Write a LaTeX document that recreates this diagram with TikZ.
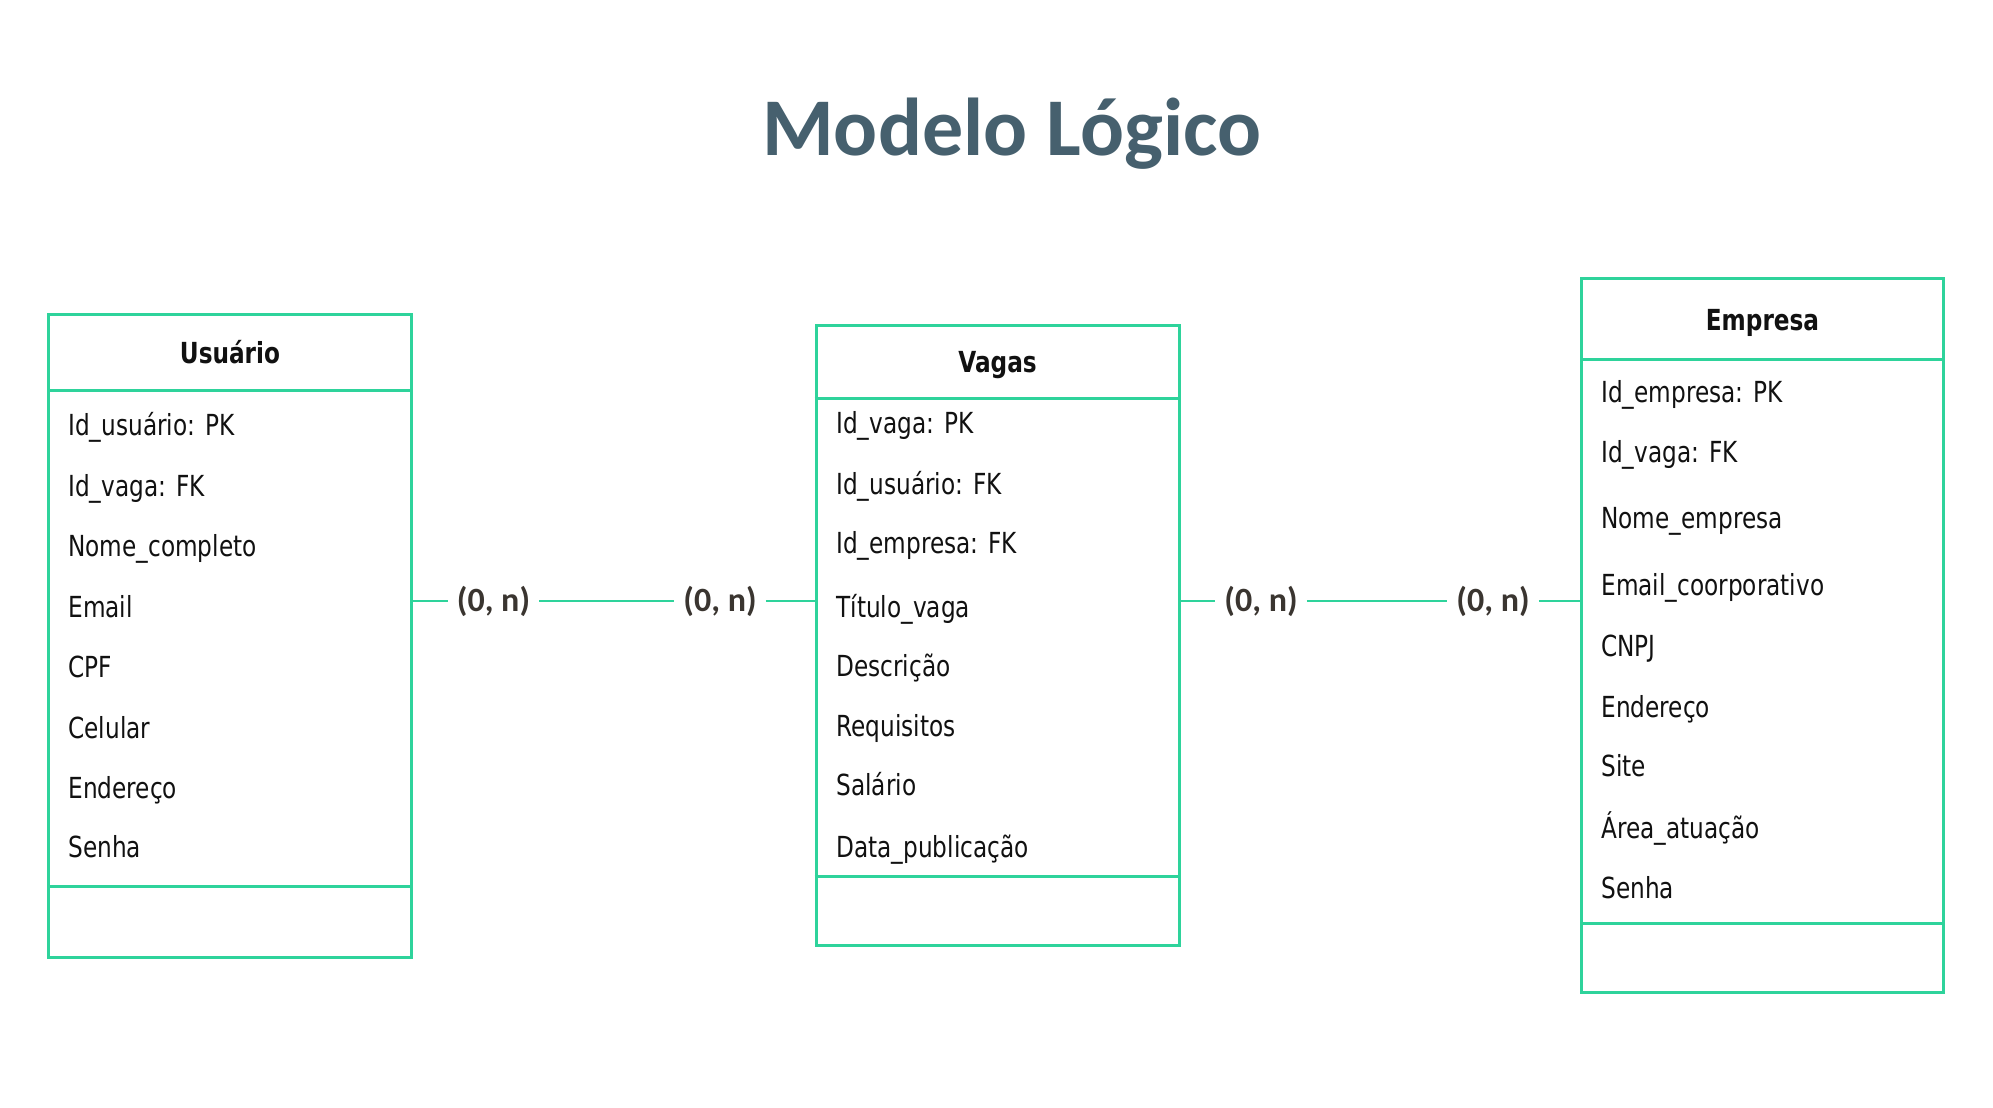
\documentclass[tikz,border=0pt]{standalone}
\usepackage{fontspec}
\newfontfamily\bodyfont[FakeStretch=0.80]{DejaVu Sans}
\newfontfamily\titlefont{Carlito}
\newfontfamily\labelfont{Carlito}
\definecolor{tealline}{HTML}{2ED39B}
\definecolor{titlecol}{HTML}{46606E}
\definecolor{labelcol}{HTML}{3A3530}
\definecolor{textcol}{HTML}{111111}
\begin{document}
\begin{tikzpicture}[x=0.5pt,y=-0.5pt,
  tbl/.style={draw=tealline, line width=1.5pt, rectangle, inner sep=0pt, minimum width=181.5pt},
  divider/.style={draw=tealline, line width=1.5pt},
  conn/.style={draw=tealline, line width=1.4pt},
  attr/.style={anchor=base west, inner sep=0pt, text=textcol, font=\bodyfont\fontsize{14.5}{17}\selectfont},
  hdr/.style={anchor=base, inner sep=0pt, text=textcol, font=\bodyfont\bfseries\fontsize{14.5}{17}\selectfont},
  card/.style={fill=white, inner xsep=4.5pt, inner ysep=1pt, text=labelcol, font=\labelfont\bfseries\fontsize{17}{17}\selectfont},
  ttl/.style={anchor=base, inner sep=0pt, text=titlecol, font=\titlefont\bfseries\fontsize{41}{41}\selectfont}]
\path[fill=white, use as bounding box] (0,0) rectangle (1993,1108);

\node[ttl] (title) at (1012,155) {Modelo Lógico};

% Usuário
\node[tbl, minimum height=321.85pt] (usu) at (230,635.85) {};
\draw[divider] (usu.west |- 0,390) -- (usu.east |- 0,390);
\draw[divider] (usu.west |- 0,886.7) -- (usu.east |- 0,886.7);
\node[hdr] (usuh) at (230,363) {Usuário};
\node[attr] (u1) at (68,435) {Id\_usuário: PK};
\node[attr] (u2) at (68,496) {Id\_vaga: FK};
\node[attr] (u3) at (68,556) {Nome\_completo};
\node[attr] (u4) at (68,617) {Email};
\node[attr] (u5) at (68,677) {CPF};
\node[attr] (u6) at (68,738) {Celular};
\node[attr] (u7) at (68,798) {Endereço};
\node[attr] (u8) at (68,857) {Senha};

% Vagas
\node[tbl, minimum height=310.35pt] (vag) at (997.5,635.35) {};
\draw[divider] (vag.west |- 0,398) -- (vag.east |- 0,398);
\draw[divider] (vag.west |- 0,876) -- (vag.east |- 0,876);
\node[hdr] (vagh) at (997.5,372) {Vagas};
\node[attr] (v1) at (836,433) {Id\_vaga: PK};
\node[attr] (v2) at (836,494) {Id\_usuário: FK};
\node[attr] (v3) at (836,553) {Id\_empresa: FK};
\node[attr] (v4) at (836,617) {Título\_vaga};
\node[attr] (v5) at (836,676) {Descrição};
\node[attr] (v6) at (836,736) {Requisitos};
\node[attr] (v7) at (836,795) {Salário};
\node[attr] (v8) at (836,857) {Data\_publicação};

% Empresa
\node[tbl, minimum width=181pt, minimum height=357pt] (emp) at (1762.5,635) {};
\draw[divider] (emp.west |- 0,359) -- (emp.east |- 0,359);
\draw[divider] (emp.west |- 0,923) -- (emp.east |- 0,923);
\node[hdr] (emph) at (1762.5,330) {Empresa};
\node[attr] (e1) at (1601,402) {Id\_empresa: PK};
\node[attr] (e2) at (1601,462) {Id\_vaga: FK};
\node[attr] (e3) at (1601,528) {Nome\_empresa};
\node[attr] (e4) at (1601,595) {Email\_coorporativo};
\node[attr] (e5) at (1601,656) {CNPJ};
\node[attr] (e6) at (1601,717) {Endereço};
\node[attr] (e7) at (1601,776) {Site};
\node[attr] (e8) at (1601,838) {Área\_atuação};
\node[attr] (e9) at (1601,898) {Senha};

% Connectors
\node[card] (l1) at (493.5,601) {(0, n)};
\node[card] (l2) at (720,601) {(0, n)};
\node[card] (l3) at (1261,601) {(0, n)};
\node[card] (l4) at (1493,601) {(0, n)};
\draw[conn] (usu.east |- l1) -- (l1.west);
\draw[conn] (l1.east) -- (l2.west);
\draw[conn] (l2.east) -- (vag.west |- l2);
\draw[conn] (vag.east |- l3) -- (l3.west);
\draw[conn] (l3.east) -- (l4.west);
\draw[conn] (l4.east) -- (emp.west |- l4);
\end{tikzpicture}
\end{document}
